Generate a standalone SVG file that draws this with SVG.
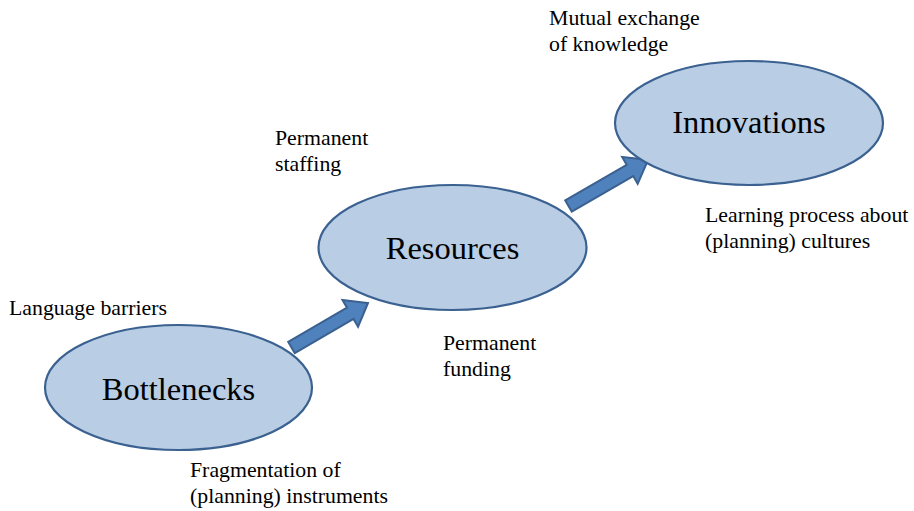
<svg xmlns="http://www.w3.org/2000/svg" width="914" height="511" viewBox="0 0 914 511">
<style>
.node ellipse{fill:#B9CDE5;stroke:#3A6190;stroke-width:2.2}
.big{font-family:'Liberation Serif',serif;font-size:32.5px;fill:#000;text-anchor:middle}
.lbl{font-family:'Liberation Serif',serif;font-size:21.8px;fill:#000}
.arrow{fill:#4F81BD;stroke:#3A6190;stroke-width:2;stroke-linejoin:miter}
</style>
<rect width="914" height="511" fill="#fff"/>
<g id="connectors">
<polygon class="arrow" transform="translate(291.5,347.5) rotate(-30.2)" points="0,-6.5 68,-6.5 68,-15.5 88.5,0 68,15.5 68,6.5 0,6.5"/>
<polygon class="arrow" transform="translate(568.5,206) rotate(-30.1)" points="0,-6.5 71,-6.5 71,-15.5 92,0 71,15.5 71,6.5 0,6.5"/>
</g>
<g id="bottlenecks" class="node">
<ellipse cx="178.5" cy="387.5" rx="133.5" ry="62.5"/>
<text class="big" x="178.5" y="400">Bottlenecks</text>
</g>
<g id="resources" class="node">
<ellipse cx="452.5" cy="247.5" rx="134" ry="62.5"/>
<text class="big" x="452.5" y="259">Resources</text>
</g>
<g id="innovations" class="node">
<ellipse cx="749" cy="123" rx="134" ry="62"/>
<text class="big" x="749" y="133">Innovations</text>
</g>
<g id="labels" font-family="Liberation Serif, serif" font-size="21.8">
<text class="lbl" x="9" y="315">Language barriers</text>
<text class="lbl" x="190" y="477">Fragmentation of</text>
<text class="lbl" x="190" y="503">(planning) instruments</text>
<text class="lbl" x="275" y="145">Permanent</text>
<text class="lbl" x="275" y="171">staffing</text>
<text class="lbl" x="443" y="350">Permanent</text>
<text class="lbl" x="443" y="376">funding</text>
<text class="lbl" x="549" y="25">Mutual exchange</text>
<text class="lbl" x="549" y="51">of knowledge</text>
<text class="lbl" x="705" y="222">Learning process about</text>
<text class="lbl" x="705" y="248">(planning) cultures</text>
</g>
</svg>
